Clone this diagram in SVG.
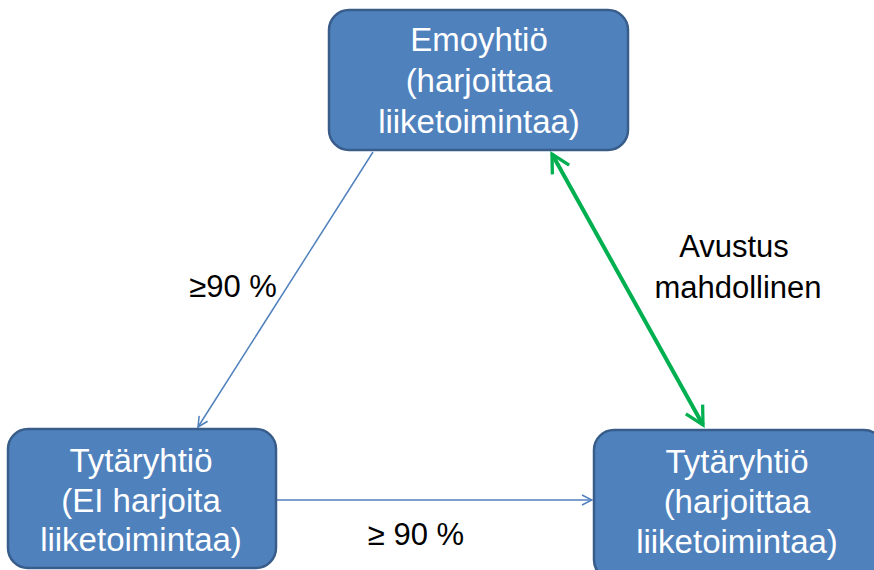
<svg xmlns="http://www.w3.org/2000/svg" width="874" height="570" viewBox="0 0 874 570">
<defs>
<style>
.box{fill:#4F81BD;stroke:#385D8A;stroke-width:2.5}
.nt{font-family:"Liberation Sans",Arial,sans-serif;font-size:33px;fill:#fff;text-anchor:middle}
.lb{font-family:"Liberation Sans",Arial,sans-serif;font-size:31px;fill:#000;text-anchor:middle}
.blue{stroke:#4F81BD;stroke-width:1.5;fill:none}
.green{stroke:#00B050;stroke-width:4;fill:none}
</style>
<marker id="ab" viewBox="0 0 12 12" refX="11" refY="6" markerWidth="12" markerHeight="12" markerUnits="userSpaceOnUse" orient="auto">
<path d="M1,1 L11,6 L1,11" fill="none" stroke="#4F81BD" stroke-width="1.5"/>
</marker>
<marker id="ag" viewBox="0 0 8 8" refX="7" refY="4" markerWidth="6" markerHeight="6" orient="auto-start-reverse">
<path d="M1,0.8 L7,4 L1,7.2" fill="none" stroke="#00B050" stroke-width="1.1"/>
</marker>
</defs>
<g id="connectors">
<line class="blue" x1="373" y1="152" x2="198" y2="427" marker-end="url(#ab)"/>
<line class="blue" x1="276" y1="500" x2="592" y2="500" marker-end="url(#ab)"/>
<line class="green" x1="552" y1="154" x2="703" y2="425" marker-start="url(#ag)" marker-end="url(#ag)"/>
<text class="lb" x="233" y="297">≥90 %</text>
<text class="lb" x="416" y="545">≥ 90 %</text>
<text class="lb" x="734" y="257">Avustus</text>
<text class="lb" x="738" y="298">mahdollinen</text>
</g>
<g id="emoyhtio">
<rect class="box" x="329" y="10" width="299" height="140" rx="20"/>
<text class="nt" x="479" y="51">Emoyhtiö</text>
<text class="nt" x="479" y="92">(harjoittaa</text>
<text class="nt" x="479" y="133">liiketoimintaa)</text>
</g>
<g id="tytar1">
<rect class="box" x="8" y="429" width="268" height="139" rx="20"/>
<text class="nt" x="141" y="472">Tytäryhtiö</text>
<text class="nt" x="141" y="512">(EI harjoita</text>
<text class="nt" x="141" y="551">liiketoimintaa)</text>
</g>
<g id="tytar2">
<rect class="box" x="594" y="430" width="290" height="150" rx="20"/>
<text class="nt" x="737" y="473">Tytäryhtiö</text>
<text class="nt" x="737" y="513">(harjoittaa</text>
<text class="nt" x="737" y="553">liiketoimintaa)</text>
</g>
</svg>
